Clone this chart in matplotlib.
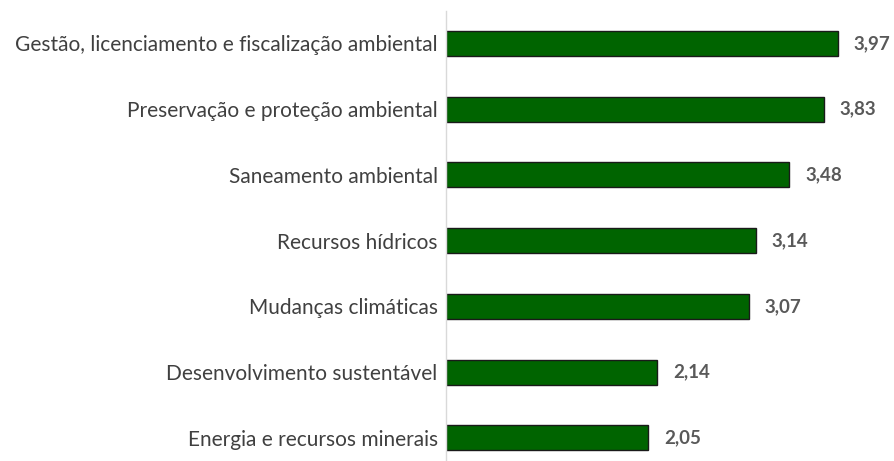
import matplotlib
matplotlib.use("Agg")
import matplotlib.pyplot as plt

categories = [
    "Gestão, licenciamento e fiscalização ambiental",
    "Preservação e proteção ambiental",
    "Saneamento ambiental",
    "Recursos hídricos",
    "Mudanças climáticas",
    "Desenvolvimento sustentável",
    "Energia e recursos minerais",
]
values = [3.97, 3.83, 3.48, 3.14, 3.07, 2.14, 2.05]
value_labels = ["3,97", "3,83", "3,48", "3,14", "3,07", "2,14", "2,05"]

plt.rcParams['font.family'] = ['Lato', 'DejaVu Sans']

W, H = 895, 461
fig = plt.figure(figsize=(W/100, H/100), dpi=100)
left = 446 / W
top = 11 / H
ax = fig.add_axes([left, 0, 1 - left - 5/W, 1 - top])

y = list(range(len(categories)))
ax.barh(y, values, height=0.38, color="#006400", edgecolor="#1a1a1a", linewidth=1.0)
ax.set_ylim(6.35, -0.494)
ax.set_xlim(0, 4.5)
ax.set_yticks(y)
ax.set_yticklabels(categories, fontsize=15, color="#404040")
ax.tick_params(axis='y', length=0, pad=6)
ax.set_xticks([])
for s in ["top", "right", "bottom"]:
    ax.spines[s].set_visible(False)
ax.spines["left"].set_color("#d9d9d9")
ax.spines["left"].set_linewidth(1.0)

for yi, v, lab in zip(y, values, value_labels):
    ax.annotate(lab, (v, yi), xytext=(16, 0), textcoords="offset pixels",
                va="center", ha="left", fontsize=13.5, fontweight="bold", color="#595959")

fig.savefig("out.png", dpi=100)
